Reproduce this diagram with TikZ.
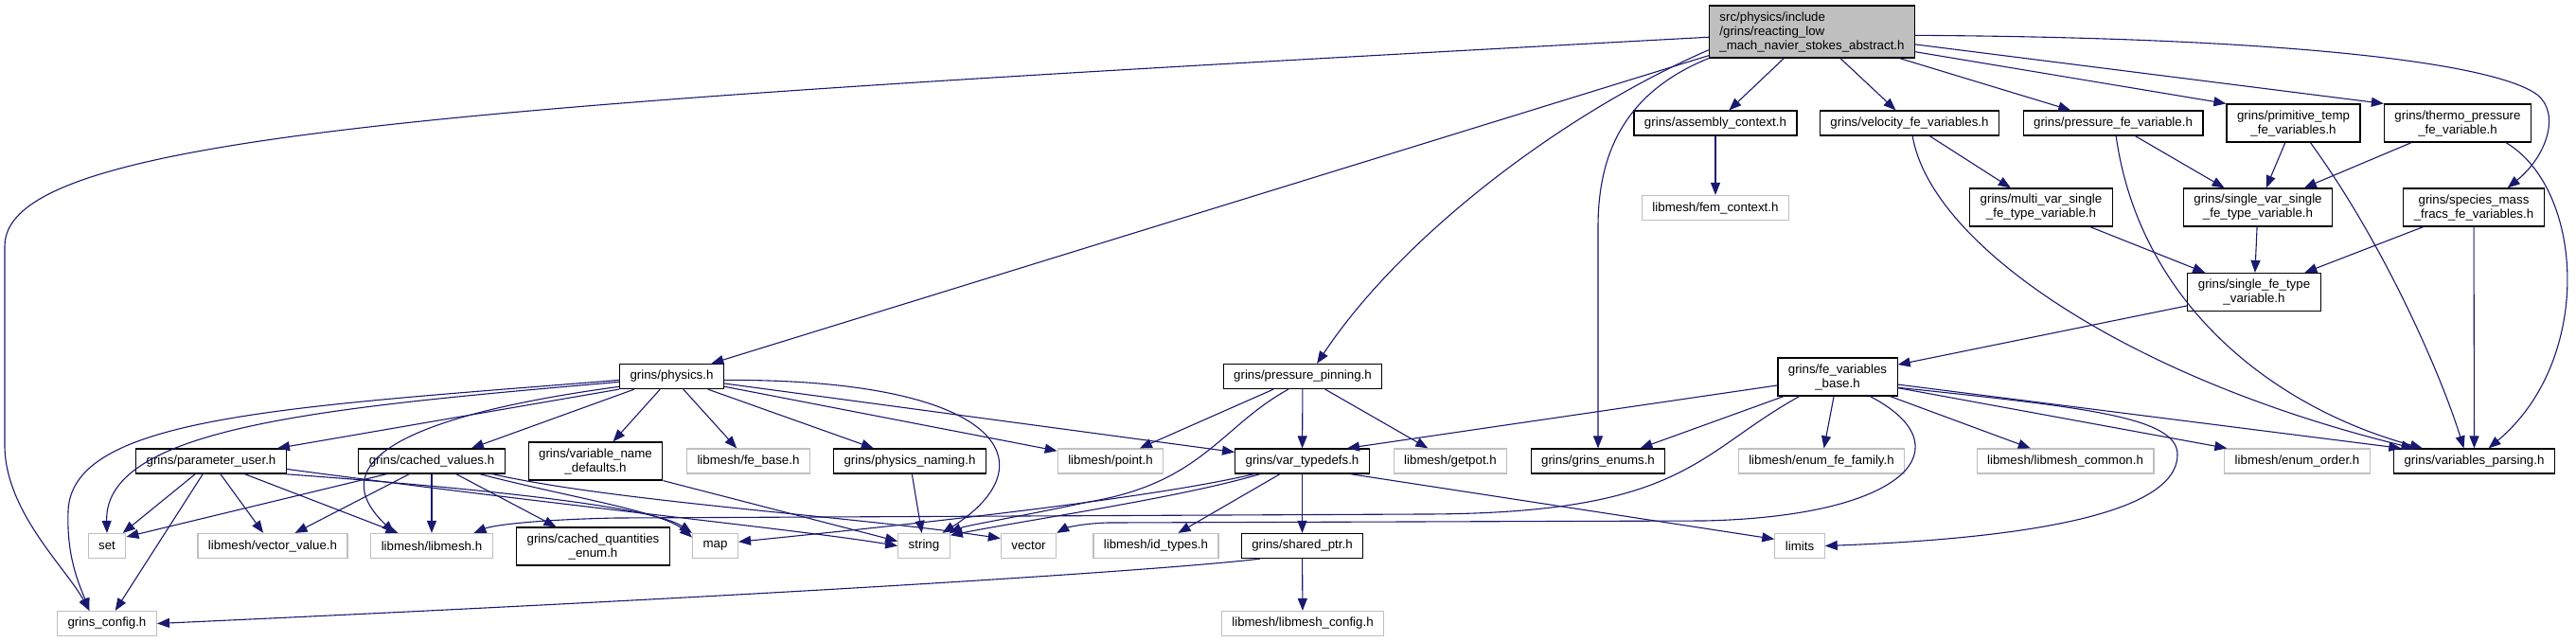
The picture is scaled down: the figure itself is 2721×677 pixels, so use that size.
\documentclass[tikz,border=0pt]{standalone}
\usepackage{fontspec}
\setmainfont{Liberation Sans}
\usetikzlibrary{arrows.meta}
\definecolor{azulArista}{HTML}{191970}
\definecolor{grisBorde}{HTML}{BFBFBF}

\begin{document}
\begin{tikzpicture}[
    x=0.5pt, y=-0.5pt,
    caja/.style={rectangle, draw=black, line width=0.6pt, fill=white, inner xsep=5.5pt, inner ysep=0pt,
                 minimum height=13pt, align=center, font=\fontsize{6.65}{7.5}\selectfont},
    doble/.style={caja, minimum height=20pt},
    externa/.style={caja, draw=grisBorde},
    raiz/.style={caja, fill=grisBorde, minimum height=27.5pt, align=left},
    flecha/.style={-{Triangle[length=6.5pt, width=5pt]}, line width=0.55pt, draw=azulArista}
  ]
  \useasboundingbox (0,0) rectangle (2721,677);

  \node[raiz] (raiz) at (1914,33.5) {src/physics/include\\/grins/reacting\_low\\\_mach\_navier\_stokes\_abstract.h};

  \node[caja] (assembly) at (1812,130) {grins/assembly\_context.h};
  \node[externa] (femctx) at (1812,219.5) {libmesh/fem\_context.h};
  \node[caja] (velocity) at (2017,130) {grins/velocity\_fe\_variables.h};
  \node[caja] (pressfe) at (2232,130) {grins/pressure\_fe\_variable.h};
  \node[doble] (primtemp) at (2422.5,130) {grins/primitive\_temp\\\_fe\_variables.h};
  \node[doble] (thermo) at (2596,130) {grins/thermo\_pressure\\\_fe\_variable.h};
  \node[doble] (multivar) at (2156,219) {grins/multi\_var\_single\\\_fe\_type\_variable.h};
  \node[doble] (singlevar) at (2385,219) {grins/single\_var\_single\\\_fe\_type\_variable.h};
  \node[doble] (species) at (2613,219) {grins/species\_mass\\\_fracs\_fe\_variables.h};
  \node[doble] (singlefe) at (2381,308.5) {grins/single\_fe\_type\\\_variable.h};
  \node[doble] (fevars) at (1941,398) {grins/fe\_variables\\\_base.h};
  \node[caja] (physics) at (709.5,397.5) {grins/physics.h};
  \node[caja] (pinning) at (1376,397.5) {grins/pressure\_pinning.h};

  \node[caja] (paramuser) at (223,487) {grins/parameter\_user.h};
  \node[caja] (cachedval) at (456,487) {grins/cached\_values.h};
  \node[doble] (varname) at (629,487) {grins/variable\_name\\\_defaults.h};
  \node[externa] (febase) at (790.5,487) {libmesh/fe\_base.h};
  \node[caja] (naming) at (961,487) {grins/physics\_naming.h};
  \node[externa] (point) at (1173,487) {libmesh/point.h};
  \node[caja] (typedefs) at (1375.5,487) {grins/var\_typedefs.h};
  \node[externa] (getpot) at (1532,487) {libmesh/getpot.h};
  \node[caja] (enums) at (1688,487) {grins/grins\_enums.h};
  \node[externa] (enumfam) at (1924,487) {libmesh/enum\_fe\_family.h};
  \node[externa] (common) at (2181.5,487) {libmesh/libmesh\_common.h};
  \node[externa] (order) at (2426.5,487) {libmesh/enum\_order.h};
  \node[caja] (parsing) at (2613.5,487) {grins/variables\_parsing.h};

  \node[externa] (set) at (113,576.5) {set};
  \node[externa] (vvalue) at (288,576.5) {libmesh/vector\_value.h};
  \node[externa] (libmesh) at (456,576.5) {libmesh/libmesh.h};
  \node[doble] (cachedquant) at (626.5,577) {grins/cached\_quantities\\\_enum.h};
  \node[externa] (map) at (755.5,576.5) {map};
  \node[externa] (string) at (976,576.5) {string};
  \node[externa] (vector) at (1086.5,576.5) {vector};
  \node[externa] (idtypes) at (1221,576.5) {libmesh/id\_types.h};
  \node[caja] (sharedptr) at (1375.5,576.5) {grins/shared\_ptr.h};
  \node[externa] (limits) at (1901,576.5) {limits};
  \node[externa] (config) at (113,658.5) {grins\_config.h};
  \node[externa] (libmeshconfig) at (1376,658.5) {libmesh/libmesh\_config.h};

  % raiz
  \draw[flecha] (raiz.183) .. controls (500,110) and (5,140) .. (5,260) -- (5,470)
    .. controls (5,540) and (70,600) .. (config.144);
  \draw[flecha] (raiz.193) -- (physics.18);
  \draw[flecha] (raiz.190) .. controls (1650,120) and (1480,250) .. (pinning.42);
  \draw[flecha] (raiz.south west) .. controls (1710,100) and (1688,170) .. (1688,240) -- (enums);
  \draw[flecha] (raiz) -- (assembly);
  \draw[flecha] (raiz) -- (velocity);
  \draw[flecha] (raiz) -- (pressfe);
  \draw[flecha] (raiz.-11) -- (primtemp.north west);
  \draw[flecha] (raiz.-7) -- (thermo.north west);
  \draw[flecha] (raiz.-2) .. controls (2450,40) and (2640,70) .. (2680,100)
    .. controls (2705,120) and (2690,165) .. (species.30);

  \draw[flecha] (assembly) -- (femctx);
  \draw[flecha] (velocity) -- (multivar);
  \draw[flecha] (velocity.-77) .. controls (2040,260) and (2250,400) .. (parsing.168);
  \draw[flecha] (pressfe) -- (singlevar);
  \draw[flecha] (pressfe.-77) .. controls (2260,320) and (2400,430) .. (parsing.166);
  \draw[flecha] (primtemp) -- (singlevar);
  \draw[flecha] (primtemp.-49) .. controls (2520,260) and (2580,400) .. (parsing.129);
  \draw[flecha] (thermo) -- (singlevar);
  \draw[flecha] (thermo.-22) .. controls (2730,200) and (2740,380) .. (parsing.42);
  \draw[flecha] (multivar) -- (singlefe);
  \draw[flecha] (singlevar) -- (singlefe);
  \draw[flecha] (species) -- (singlefe);
  \draw[flecha] (species) -- (parsing);
  \draw[flecha] (singlefe) -- (fevars);

  % fe_variables_base
  \draw[flecha] (fevars.188) -- (typedefs.16);
  \draw[flecha] (fevars) -- (enums.17);
  \draw[flecha] (fevars.-153) .. controls (1790,480) and (1780,543) .. (1500,543) -- (650,547)
    .. controls (560,549) and (520,555) .. (libmesh.17);
  \draw[flecha] (fevars.-31) .. controls (2075,470) and (2020,545) .. (1800,550) -- (1170,552)
    .. controls (1140,553) and (1125,558) .. (vector.north east);
  \draw[flecha] (fevars) -- (enumfam);
  \draw[flecha] (fevars) -- (common);
  \draw[flecha] (fevars) -- (order);
  \draw[flecha] (fevars) -- (parsing.170);
  \draw[flecha] (fevars.-10) .. controls (2200,430) and (2300,440) .. (2300,480)
    .. controls (2300,550) and (2100,570) .. (limits.east);

  % physics
  \draw[flecha] (physics.184) .. controls (300,430) and (75,440) .. (72,540)
    .. controls (70,590) and (85,620) .. (config.144);
  \draw[flecha] (physics.186) .. controls (350,430) and (110,450) .. (set.north);
  \draw[flecha] (physics.191) .. controls (420,440) and (340,490) .. (libmesh.161);
  \draw[flecha] (physics.south west) -- (paramuser.11);
  \draw[flecha] (physics.-161) -- (cachedval.18);
  \draw[flecha] (physics) -- (varname);
  \draw[flecha] (physics) -- (febase);
  \draw[flecha] (physics) -- (naming);
  \draw[flecha] (physics) -- (point);
  \draw[flecha] (physics) -- (typedefs);
  \draw[flecha] (physics.-4) .. controls (1060,400) and (1110,490) .. (string.35);

  % parameter_user, cached_values
  \draw[flecha] (paramuser) -- (set);
  \draw[flecha] (paramuser) -- (config);
  \draw[flecha] (paramuser) -- (vvalue);
  \draw[flecha] (paramuser) -- (libmesh);
  \draw[flecha] (paramuser.-10) .. controls (500,515) and (690,535) .. (map.north west);
  \draw[flecha] (paramuser.-6) .. controls (600,535) and (850,560) .. (string.west);
  \draw[flecha] (cachedval.-164) -- (set.25);
  \draw[flecha] (cachedval.-150) -- (vvalue.30);
  \draw[flecha] (cachedval) -- (libmesh);
  \draw[flecha] (cachedval) -- (cachedquant);
  \draw[flecha] (cachedval.-15) .. controls (600,525) and (700,540) .. (map.160);
  \draw[flecha] (cachedval.-12) .. controls (650,530) and (900,545) .. (vector.165);
  \draw[flecha] (varname.south east) -- (string.170);
  \draw[flecha] (naming) -- (string);

  % pressure_pinning, var_typedefs, shared_ptr
  \draw[flecha] (pinning) -- (point);
  \draw[flecha] (pinning.-138) .. controls (1290,450) and (1270,510) .. (1150,530)
    .. controls (1080,545) and (1020,555) .. (string.27);
  \draw[flecha] (pinning) -- (typedefs);
  \draw[flecha] (pinning) -- (getpot);
  \draw[flecha] (typedefs.-165) .. controls (1200,530) and (900,560) .. (map.10);
  \draw[flecha] (typedefs.-163) .. controls (1250,525) and (1080,550) .. (string.22);
  \draw[flecha] (typedefs) -- (idtypes);
  \draw[flecha] (typedefs) -- (sharedptr);
  \draw[flecha] (typedefs.-15) -- (limits.165);
  \draw[flecha] (sharedptr.-163) .. controls (1250,600) and (900,625) .. (config.east);
  \draw[flecha] (sharedptr) -- (libmeshconfig);
\end{tikzpicture}
\end{document}
